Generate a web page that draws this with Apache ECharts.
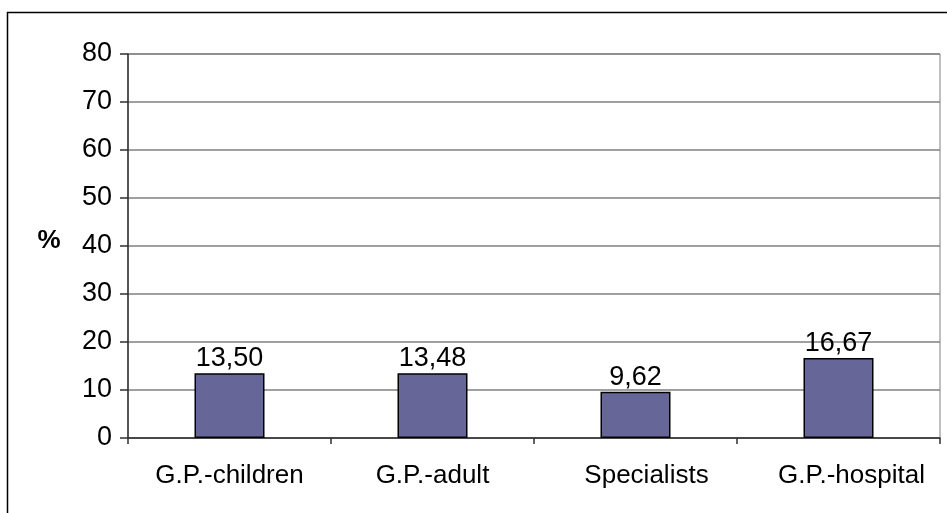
<!DOCTYPE html>
<html>
<head>
<meta charset="utf-8">
<script src="https://cdn.jsdelivr.net/npm/echarts@6/dist/echarts.min.js"></script>
<style>
html,body{margin:0;padding:0;background:#fff;}
#main{width:947px;height:513px;}
</style>
</head>
<body>
<div id="main"></div>
<script>
const categories = ['G.P.-children', 'G.P.-adult', 'Specialists', 'G.P.-hospital'];
const values = [13.50, 13.48, 9.62, 16.67];
const yMin = 0, yMax = 80, yStep = 10;
const yAxisName = '%';

const FONT = '"Liberation Sans", Arial, sans-serif';
// horizontal nudge of some category labels, as in the original layout
const labelNudge = [0, 0, 22, 26];
const catData = categories.map((c, i) => ({
  value: c,
  textStyle: {padding: [0, 0, 0, labelNudge[i]]}
}));

const chart = echarts.init(document.getElementById('main'), null, {renderer: 'canvas'});
chart.setOption({
  animation: false,
  backgroundColor: '#ffffff',
  grid: {left: 128, right: 7, top: 54, bottom: 75, show: true, borderColor: '#808080', borderWidth: 1, backgroundColor: 'transparent'},
  graphic: [
    {type: 'rect', shape: {x: 7.5, y: 12.5, width: 1200, height: 800}, style: {fill: 'none', stroke: '#000', lineWidth: 1.5}, silent: true, z: 0},
    {type: 'text', x: 49, y: 241, style: {text: yAxisName, font: 'bold 26px ' + FONT, fill: '#000', align: 'center', verticalAlign: 'middle'}, z: 10}
  ],
  xAxis: {
    type: 'category',
    data: catData,
    boundaryGap: true,
    axisLine: {show: true, lineStyle: {color: '#303030', width: 1.5}},
    axisTick: {show: true, alignWithLabel: false, length: 6, inside: false, lineStyle: {color: '#303030', width: 1.5}},
    axisLabel: {color: '#000', fontFamily: FONT, fontSize: 26, margin: 25, interval: 0},
    splitLine: {show: false}
  },
  yAxis: {
    type: 'value',
    min: yMin, max: yMax, interval: yStep,
    axisLine: {show: true, lineStyle: {color: '#303030', width: 1.5}},
    axisTick: {show: true, length: 8, lineStyle: {color: '#303030', width: 1.5}},
    axisLabel: {color: '#000', fontFamily: FONT, fontSize: 27, margin: 16, padding: [4, 0, 0, 0]},
    splitLine: {show: true, lineStyle: {color: '#808080', width: 1.5}}
  },
  series: [{
    type: 'bar',
    data: values,
    barWidth: 70,
    itemStyle: {color: '#666699', borderColor: '#000', borderWidth: 1.5},
    label: {
      show: true, position: 'top', distance: 1,
      color: '#000', fontFamily: FONT, fontSize: 27,
      formatter: p => p.value.toFixed(2).replace('.', ',')
    }
  }]
});
</script>
</body>
</html>
